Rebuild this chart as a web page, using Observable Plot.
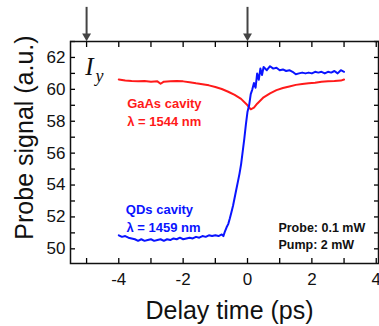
<!DOCTYPE html>
<html>
<head>
<meta charset="utf-8">
<script src="https://cdn.jsdelivr.net/npm/d3@7"></script>
<script src="https://cdn.jsdelivr.net/npm/@observablehq/plot@0.6"></script>
<style>
  html, body { margin: 0; padding: 0; background: #fff; }
</style>
</head>
<body>
<div id="chart"></div>
<script>
// Blue: QDs cavity (λ = 1459 nm)
const blueX = [-4.0,-3.9,-3.8,-3.7,-3.6,-3.5,-3.4,-3.3,-3.2,-3.1,-3.0,-2.9,-2.8,-2.7,-2.6,-2.5,-2.4,-2.3,-2.2,-2.1,-2.0,-1.9,-1.8,-1.7,-1.6,-1.5,-1.4,-1.3,-1.2,-1.1,-1.0,-0.9,-0.8,-0.75,-0.7,-0.65,-0.6,-0.55,-0.5,-0.45,-0.4,-0.35,-0.3,-0.25,-0.2,-0.15,-0.1,-0.05,0.0,0.05,0.1,0.15,0.2,0.25,0.3,0.35,0.4,0.45,0.5,0.6,0.7,0.8,0.9,1.0,1.1,1.2,1.3,1.4,1.5,1.6,1.7,1.8,1.9,2.0,2.1,2.2,2.3,2.4,2.5,2.6,2.7,2.8,2.9,3.0];
const blueY = [50.85,50.75,50.8,50.7,50.65,50.6,50.5,50.6,50.5,50.55,50.6,50.5,50.55,50.6,50.5,50.6,50.55,50.65,50.6,50.7,50.6,50.65,50.7,50.65,50.75,50.7,50.8,50.75,50.85,50.8,50.85,50.8,50.9,50.8,51.1,51.35,51.55,51.9,52.3,52.7,53.2,53.7,54.2,54.7,55.3,56.1,56.9,57.8,58.6,59.0,59.7,60.0,60.4,60.1,61.0,60.6,61.3,60.9,61.4,61.2,61.45,61.3,61.35,61.2,61.25,61.15,61.2,61.1,60.95,61.0,61.05,61.0,61.05,61.0,61.1,61.05,61.1,61.0,61.1,61.05,61.15,61.0,61.2,61.1];
// Red: GaAs cavity (λ = 1544 nm)
const redX = [-4.0,-3.8,-3.6,-3.4,-3.2,-3.0,-2.8,-2.7,-2.6,-2.4,-2.2,-2.0,-1.8,-1.6,-1.4,-1.2,-1.0,-0.8,-0.6,-0.4,-0.2,0.0,0.1,0.2,0.3,0.5,0.7,0.9,1.1,1.3,1.5,1.7,1.9,2.1,2.3,2.5,2.7,2.9,3.0];
const redY = [60.62,60.55,60.52,60.5,60.52,60.48,60.5,60.35,60.48,60.5,60.52,60.5,60.45,60.38,60.32,60.25,60.15,60.02,59.85,59.65,59.4,59.0,58.75,58.85,59.1,59.5,59.75,59.95,60.08,60.18,60.28,60.33,60.38,60.42,60.48,60.5,60.52,60.55,60.62];
const xTickLabels = [-4, -2, 0, 2, 4];
const xTicks = [-5, -4, -3, -2, -1, 0, 1, 2, 3, 4];
const yTickLabels = [50, 52, 54, 56, 58, 60, 62];
const yTicks = [50, 51, 52, 53, 54, 55, 56, 57, 58, 59, 60, 61, 62, 63];
const arrowX = [-5, 0];

const blue = blueX.map((x, i) => ({x, y: blueY[i]}));
const red = redX.map((x, i) => ({x, y: redY[i]}));

const RED = "#ff1a1a", BLUE = "#0a14ff";

const chart = Plot.plot({
  width: 379, height: 326,
  marginLeft: 70, marginRight: 1, marginTop: 41, marginBottom: 63,
  style: {fontFamily: "Liberation Sans, Arial, sans-serif", background: "#fff", overflow: "visible"},
  x: {domain: [-5.5, 4.07]},
  y: {domain: [49.08, 63]},
  marks: [
    Plot.axisX({ticks: xTicks, anchor: "bottom", tickSize: -5, tickFormat: () => "", label: null, strokeWidth: 1.3}),
    Plot.axisX({ticks: xTicks, anchor: "top", tickSize: -5, tickFormat: () => "", label: null, strokeWidth: 1.3}),
    Plot.axisY({ticks: yTicks, anchor: "left", tickSize: -5, tickFormat: () => "", label: null, strokeWidth: 1.3}),
    Plot.axisY({ticks: yTicks, anchor: "right", tickSize: -5, tickFormat: () => "", label: null, strokeWidth: 1.3}),
    Plot.axisX({ticks: xTickLabels, anchor: "bottom", tickSize: 0, tickPadding: 9, fontSize: 17, fill: "#111", tickFormat: d => String(d), label: null}),
    Plot.axisY({ticks: yTickLabels, anchor: "left", tickSize: 0, tickPadding: 5, fontSize: 17, fill: "#111", tickFormat: d => String(d), label: null}),
    Plot.frame({stroke: "#111", strokeWidth: 1.5}),
    Plot.line(red, {x: "x", y: "y", stroke: RED, strokeWidth: 2}),
    Plot.line(blue, {x: "x", y: "y", stroke: BLUE, strokeWidth: 2}),
    Plot.ruleX(arrowX, {x: d => d, y1: 65.14, y2: 63.4, stroke: "#444", strokeWidth: 2}),
    Plot.dot(arrowX, {x: d => d, y: 63.34, symbol: "triangle", rotate: 180, r: 3.3, fill: "#444", stroke: "none"}),
    Plot.text(["I"], {x: -4.91, y: 61.43, fontFamily: "Liberation Serif, serif", fontStyle: "italic", fontSize: 25, fill: "#111"}),
    Plot.text(["y"], {x: -4.6, y: 60.8, fontFamily: "Liberation Serif, serif", fontStyle: "italic", fontSize: 18, fill: "#111"}),
    Plot.text(["GaAs cavity"], {x: -3.74, y: 59.09, textAnchor: "start", fill: RED, fontWeight: "bold", fontSize: 13}),
    Plot.text(["λ = 1544 nm"], {x: -3.74, y: 57.97, textAnchor: "start", fill: RED, fontWeight: "bold", fontSize: 13}),
    Plot.text(["QDs cavity"], {x: -3.78, y: 52.42, textAnchor: "start", fill: BLUE, fontWeight: "bold", fontSize: 13}),
    Plot.text(["λ = 1459 nm"], {x: -3.76, y: 51.33, textAnchor: "start", fill: BLUE, fontWeight: "bold", fontSize: 13}),
    Plot.text(["Probe: 0.1 mW"], {x: 0.96, y: 51.29, textAnchor: "start", fill: "#111", fontWeight: "bold", fontSize: 12.5}),
    Plot.text(["Pump: 2 mW"], {x: 0.96, y: 50.24, textAnchor: "start", fill: "#111", fontWeight: "bold", fontSize: 12.5}),
    Plot.text(["Delay time (ps)"], {frameAnchor: "bottom", textAnchor: "middle", lineAnchor: "middle", dy: 47, dx: 5, fontSize: 25, fill: "#111"}),
    Plot.text(["Probe signal (a.u.)"], {frameAnchor: "left", textAnchor: "middle", lineAnchor: "middle", rotate: -90, dx: -46, dy: -15, fontSize: 25, fill: "#111"})
  ]
});
document.getElementById("chart").appendChild(chart);
</script>
</body>
</html>
